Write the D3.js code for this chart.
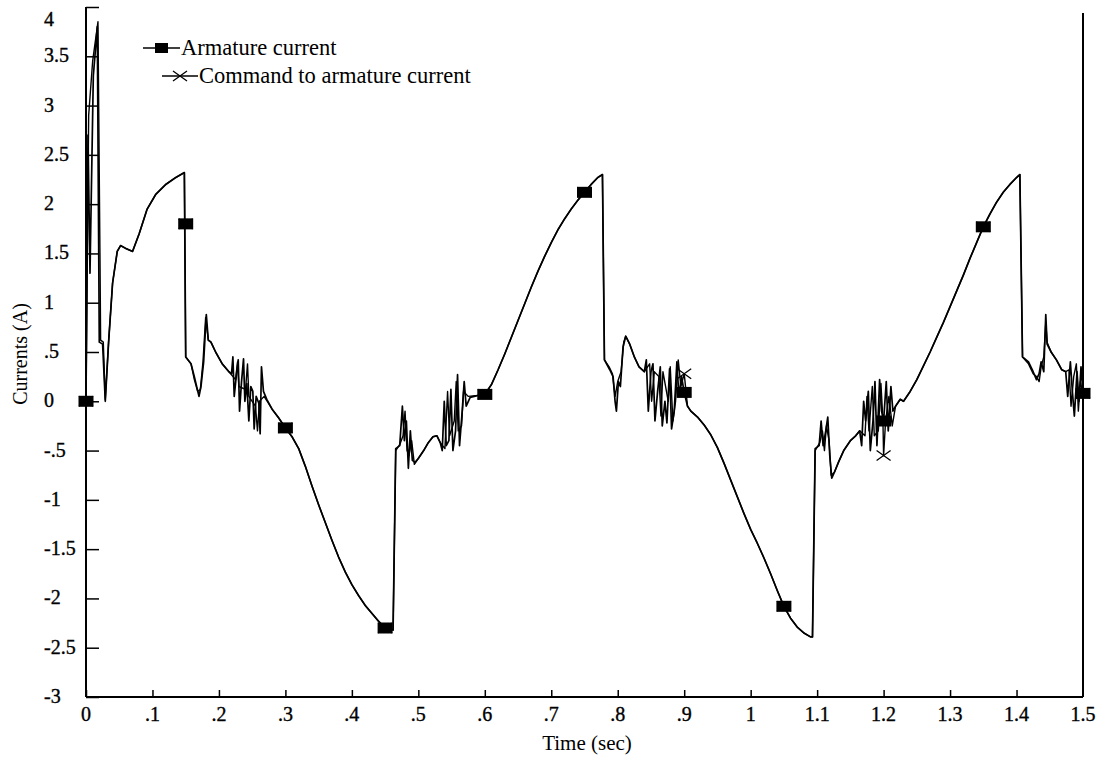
<!DOCTYPE html>
<html>
<head>
<meta charset="utf-8">
<script src="https://cdn.jsdelivr.net/npm/d3@7"></script>
<style>
  html, body { margin: 0; padding: 0; background: #fff; }
  svg { display: block; }
  text { font-family: "Liberation Serif", "Times New Roman", serif; fill: #000; }
</style>
</head>
<body>
<svg id="chart" width="1107" height="759"></svg>
<script>
// ---------------- DATA ----------------
const xTickValues = [0, 0.1, 0.2, 0.3, 0.4, 0.5, 0.6, 0.7, 0.8, 0.9, 1, 1.1, 1.2, 1.3, 1.4, 1.5];
const xTickLabels = ["0", ".1", ".2", ".3", ".4", ".5", ".6", ".7", ".8", ".9", "1", "1.1", "1.2", "1.3", "1.4", "1.5"];
const yTickValues = [4, 3.5, 3, 2.5, 2, 1.5, 1, 0.5, 0, -0.5, -1, -1.5, -2, -2.5, -3];
const yTickLabels = ["4", "3.5", "3", "2.5", "2", "1.5", "1", ".5", "0", "-.5", "-1", "-1.5", "-2", "-2.5", "-3"];

const seriesNames = ["Armature current", "Command to armature current"];

// Armature current [time (s), current (A)]
const armature = [
  [0,0],[0.003,2.7],[0.006,1.3],[0.011,3.3],[0.017,3.8],[0.020,0.6],[0.025,0.58],[0.029,0],
  [0.034,0.6],[0.040,1.2],[0.047,1.52],[0.052,1.58],[0.060,1.55],[0.070,1.52],[0.080,1.7],
  [0.092,1.95],[0.105,2.1],[0.120,2.2],[0.135,2.27],[0.148,2.32],[0.150,0.45],
  [0.158,0.38],[0.163,0.25],[0.170,0.05],[0.173,0.15],[0.177,0.4],[0.181,0.88],[0.184,0.62],
  [0.188,0.6],[0.195,0.5],[0.205,0.38],[0.215,0.3],
  [0.219,0.28],[0.221,0.45],[0.223,0.05],[0.226,0.25],[0.229,0.42],[0.231,-0.1],[0.234,0.2],
  [0.237,0.43],[0.239,0.0],[0.242,0.18],[0.245,-0.2],[0.248,0.15],[0.251,0.1],[0.253,-0.28],
  [0.256,0.05],[0.260,-0.02],[0.262,-0.33],[0.264,0.35],[0.267,0.1],[0.272,0.02],[0.280,-0.08],
  [0.290,-0.17],[0.300,-0.27],
  [0.31,-0.36],[0.32,-0.48],[0.33,-0.66],[0.34,-0.86],[0.35,-1.05],[0.36,-1.23],[0.37,-1.41],
  [0.38,-1.58],[0.39,-1.73],[0.40,-1.86],[0.41,-1.97],[0.42,-2.07],[0.43,-2.15],[0.44,-2.23],
  [0.45,-2.3],[0.462,-2.32],
  [0.466,-0.48],[0.472,-0.45],[0.476,-0.05],[0.479,-0.4],[0.482,-0.2],[0.485,-0.68],[0.488,-0.3],
  [0.491,-0.6],[0.495,-0.62],[0.500,-0.58],[0.508,-0.5],[0.515,-0.42],[0.522,-0.36],[0.528,-0.35],
  [0.533,-0.42],[0.536,-0.5],[0.539,0.0],[0.542,-0.45],[0.546,-0.4],[0.549,0.12],[0.552,-0.5],
  [0.556,-0.3],[0.559,0.27],[0.562,-0.45],[0.566,-0.1],[0.569,0.2],[0.572,-0.05],[0.578,0.04],
  [0.59,0.06],[0.60,0.07],
  [0.61,0.17],[0.62,0.32],[0.63,0.48],[0.64,0.65],[0.65,0.82],[0.66,0.99],[0.67,1.16],[0.68,1.32],
  [0.69,1.47],[0.70,1.61],[0.71,1.74],[0.72,1.85],[0.73,1.95],[0.74,2.04],[0.75,2.12],[0.76,2.2],
  [0.77,2.27],[0.777,2.3],[0.780,0.42],
  [0.788,0.32],[0.793,0.25],[0.796,0.0],[0.798,-0.1],[0.801,0.2],[0.804,0.15],[0.808,0.55],
  [0.812,0.66],[0.818,0.58],[0.825,0.45],[0.832,0.35],[0.840,0.3],[0.843,0.42],[0.846,-0.1],
  [0.850,0.3],[0.853,0.38],[0.856,-0.2],[0.860,0.1],[0.864,0.35],[0.867,-0.25],[0.871,0.0],
  [0.874,-0.22],[0.878,0.33],[0.881,-0.28],[0.885,-0.1],[0.889,0.4],[0.892,0.05],[0.896,0.25],
  [0.900,0.09],[0.905,-0.05],
  [0.91,-0.1],[0.92,-0.16],[0.93,-0.24],[0.94,-0.34],[0.95,-0.47],[0.96,-0.63],[0.97,-0.8],
  [0.98,-0.97],[0.99,-1.14],[1.00,-1.3],[1.01,-1.44],[1.02,-1.59],[1.03,-1.75],[1.04,-1.92],
  [1.05,-2.08],[1.06,-2.2],[1.07,-2.29],[1.08,-2.35],[1.09,-2.39],[1.093,-2.39],
  [1.097,-0.48],[1.103,-0.45],[1.106,-0.2],[1.109,-0.45],[1.113,-0.3],[1.116,-0.16],[1.119,-0.55],
  [1.122,-0.78],[1.126,-0.72],[1.132,-0.62],[1.14,-0.5],[1.15,-0.4],[1.158,-0.35],[1.164,-0.3],
  [1.167,-0.45],[1.170,0.0],[1.173,-0.2],[1.177,0.1],[1.180,-0.5],[1.184,-0.2],[1.187,0.2],
  [1.190,-0.45],[1.194,0.22],[1.197,-0.1],[1.200,-0.2],[1.204,0.2],[1.207,-0.3],[1.211,0.15],
  [1.214,-0.1],[1.218,-0.05],[1.225,0.02],
  [1.23,0.0],[1.24,0.1],[1.25,0.22],[1.26,0.36],[1.27,0.5],[1.28,0.65],[1.29,0.8],[1.30,0.96],
  [1.31,1.12],[1.32,1.28],[1.33,1.45],[1.34,1.61],[1.35,1.77],[1.36,1.9],[1.37,2.02],[1.38,2.12],
  [1.39,2.2],[1.40,2.27],[1.405,2.3],[1.409,0.45],
  [1.418,0.4],[1.425,0.3],[1.430,0.22],[1.434,0.28],[1.437,0.4],[1.441,0.3],[1.444,0.88],
  [1.446,0.58],[1.452,0.5],[1.460,0.42],[1.468,0.32],[1.474,0.3],[1.477,0.05],[1.481,0.4],
  [1.484,0.1],[1.487,-0.15],[1.491,0.3],[1.494,0.0],[1.497,0.35],[1.5,0.08]
];

// Command to armature current [time (s), current (A)]
const command = [
  [0,0],[0.004,2.9],[0.010,3.45],[0.018,3.85],[0.021,1.5],[0.022,0.62],[0.026,0.6],[0.029,0.02],
  [0.034,0.6],[0.040,1.2],[0.047,1.52],[0.052,1.58],[0.060,1.55],[0.070,1.52],[0.080,1.7],
  [0.092,1.95],[0.105,2.1],[0.120,2.2],[0.135,2.27],[0.148,2.32],[0.150,0.45],
  [0.158,0.38],[0.163,0.22],[0.168,0.1],[0.172,0.12],[0.176,0.4],[0.180,0.85],[0.184,0.62],
  [0.188,0.6],[0.195,0.5],[0.205,0.38],[0.215,0.3],
  [0.225,0.22],[0.228,0.4],[0.230,0.15],[0.240,0.12],[0.243,0.38],[0.245,0.05],[0.250,0.0],
  [0.255,-0.05],[0.258,-0.3],[0.261,0.0],[0.268,0.05],[0.280,-0.08],[0.290,-0.17],[0.300,-0.27],
  [0.31,-0.36],[0.32,-0.48],[0.33,-0.66],[0.34,-0.86],[0.35,-1.05],[0.36,-1.23],[0.37,-1.41],
  [0.38,-1.58],[0.39,-1.73],[0.40,-1.86],[0.41,-1.97],[0.42,-2.07],[0.43,-2.15],[0.44,-2.23],
  [0.45,-2.3],[0.462,-2.32],
  [0.466,-0.5],[0.472,-0.44],[0.477,-0.35],[0.480,-0.1],[0.483,-0.5],[0.486,-0.55],[0.490,-0.4],
  [0.494,-0.64],[0.500,-0.58],[0.508,-0.5],[0.515,-0.42],[0.522,-0.36],[0.528,-0.35],[0.533,-0.42],
  [0.540,-0.48],[0.544,0.1],[0.547,-0.35],[0.554,-0.2],[0.557,0.2],[0.560,-0.3],[0.565,-0.25],
  [0.568,0.1],[0.575,0.05],[0.59,0.06],[0.60,0.07],
  [0.61,0.17],[0.62,0.32],[0.63,0.48],[0.64,0.65],[0.65,0.82],[0.66,0.99],[0.67,1.16],[0.68,1.32],
  [0.69,1.47],[0.70,1.61],[0.71,1.74],[0.72,1.85],[0.73,1.95],[0.74,2.04],[0.75,2.12],[0.76,2.2],
  [0.77,2.27],[0.777,2.3],[0.780,0.42],
  [0.787,0.35],[0.792,0.28],[0.796,0.05],[0.800,0.2],[0.805,0.3],[0.809,0.6],[0.812,0.66],
  [0.818,0.58],[0.825,0.45],[0.832,0.35],[0.840,0.3],[0.848,0.38],[0.851,0.0],[0.855,0.3],
  [0.862,0.25],[0.865,-0.15],[0.868,0.3],[0.876,0.0],[0.879,0.35],[0.883,-0.2],[0.887,0.0],
  [0.891,0.42],[0.895,0.15],[0.900,0.28],[0.905,-0.05],
  [0.91,-0.1],[0.92,-0.16],[0.93,-0.24],[0.94,-0.34],[0.95,-0.47],[0.96,-0.63],[0.97,-0.8],
  [0.98,-0.97],[0.99,-1.14],[1.00,-1.3],[1.01,-1.44],[1.02,-1.59],[1.03,-1.75],[1.04,-1.92],
  [1.05,-2.08],[1.06,-2.2],[1.07,-2.29],[1.08,-2.35],[1.09,-2.39],[1.093,-2.39],
  [1.097,-0.5],[1.104,-0.42],[1.108,-0.3],[1.111,-0.5],[1.114,-0.25],[1.118,-0.4],[1.121,-0.75],
  [1.126,-0.72],[1.132,-0.62],[1.14,-0.5],[1.15,-0.4],[1.158,-0.35],[1.164,-0.3],[1.172,-0.35],
  [1.175,0.05],[1.178,-0.3],[1.183,0.15],[1.186,-0.35],[1.192,-0.3],[1.196,0.18],[1.199,-0.2],
  [1.200,-0.55],[1.203,-0.2],[1.208,0.05],[1.213,-0.25],[1.218,-0.05],[1.225,0.02],
  [1.23,0.0],[1.24,0.1],[1.25,0.22],[1.26,0.36],[1.27,0.5],[1.28,0.65],[1.29,0.8],[1.30,0.96],
  [1.31,1.12],[1.32,1.28],[1.33,1.45],[1.34,1.61],[1.35,1.77],[1.36,1.9],[1.37,2.02],[1.38,2.12],
  [1.39,2.2],[1.40,2.27],[1.405,2.3],[1.409,0.45],
  [1.418,0.38],[1.425,0.28],[1.430,0.25],[1.434,0.2],[1.437,0.35],[1.441,0.45],[1.444,0.8],
  [1.446,0.6],[1.452,0.5],[1.460,0.42],[1.468,0.32],[1.474,0.3],[1.479,0.32],[1.482,-0.05],
  [1.486,0.25],[1.490,0.38],[1.493,-0.1],[1.496,0.2],[1.5,0.08]
];

// Marker positions (every 0.15 s)
const markerTimes = [0, 0.15, 0.3, 0.45, 0.6, 0.75, 0.9, 1.05, 1.2, 1.35, 1.5];
const armatureMarkers = [0, 1.8, -0.27, -2.3, 0.07, 2.12, 0.09, -2.08, -0.2, 1.77, 0.08];
const commandMarkers = [0, 1.8, -0.27, -2.3, 0.07, 2.12, 0.28, -2.08, -0.55, 1.77, 0.08];

// ---------------- DRAW ----------------
const svg = d3.select("#chart");
svg.append("rect").attr("width", 1107).attr("height", 759).attr("fill", "#fff");

const x = d3.scaleLinear().domain([0, 1.5]).range([86, 1083]);
const y = d3.scaleLinear().domain([-3, 4]).range([697, 7]);

const line = d3.line().x(d => x(d[0])).y(d => y(d[1]));

const axisColor = "#000";
// left axis with inward ticks
const yAxis = d3.axisRight(y).tickValues(yTickValues).tickSize(13).tickFormat("");
const gy = svg.append("g").attr("transform", `translate(${x(0)},0)`).call(yAxis);
gy.select(".domain").remove();
gy.selectAll(".tick line").attr("stroke", axisColor).attr("stroke-width", 1.5);
svg.append("line").attr("x1", x(0)).attr("x2", x(0)).attr("y1", y(4)).attr("y2", y(-3))
  .attr("stroke", axisColor).attr("stroke-width", 2);

// y labels (left aligned)
svg.append("g").selectAll("text").data(yTickValues).join("text")
  .attr("x", 44)
  .attr("y", (d) => Math.max(y(d), 20) + 6)
  .attr("font-size", 20)
  .attr("stroke", "#000").attr("stroke-width", 0.35)
  .attr("text-anchor", "start")
  .text((d, i) => yTickLabels[i]);

// bottom axis with upward ticks
const xAxis = d3.axisTop(x).tickValues(xTickValues.slice(0, -1)).tickSize(7).tickFormat("");
const gx = svg.append("g").attr("transform", `translate(0,${y(-3)})`).call(xAxis);
gx.select(".domain").remove();
gx.selectAll(".tick line").attr("stroke", axisColor).attr("stroke-width", 1.5);
svg.append("line").attr("x1", x(0)).attr("x2", x(1.5)).attr("y1", y(-3)).attr("y2", y(-3))
  .attr("stroke", axisColor).attr("stroke-width", 2);
// right border
svg.append("line").attr("x1", x(1.5)).attr("x2", x(1.5)).attr("y1", 13).attr("y2", y(-3))
  .attr("stroke", axisColor).attr("stroke-width", 2);

svg.append("g").selectAll("text").data(xTickValues).join("text")
  .attr("x", d => x(d))
  .attr("y", y(-3) + 24)
  .attr("font-size", 20)
  .attr("stroke", "#000").attr("stroke-width", 0.35)
  .attr("text-anchor", "middle")
  .text((d, i) => xTickLabels[i]);

// axis titles
svg.append("text").attr("x", 587).attr("y", 750).attr("font-size", 21)
  .attr("text-anchor", "middle").text("Time (sec)");
svg.append("text").attr("transform", "translate(27,354) rotate(-90)").attr("font-size", 20)
  .attr("text-anchor", "middle").text("Currents (A)");

// series lines
svg.append("path").datum(command).attr("d", line)
  .attr("fill", "none").attr("stroke", "#000").attr("stroke-width", 1.4).attr("stroke-linejoin", "round");
svg.append("path").datum(armature).attr("d", line)
  .attr("fill", "none").attr("stroke", "#000").attr("stroke-width", 1.7).attr("stroke-linejoin", "round");

// command markers (x)
const xMark = (g, cx, cy) => {
  g.append("path")
    .attr("d", `M${cx - 7},${cy - 5}L${cx + 7},${cy + 5}M${cx - 7},${cy + 5}L${cx + 7},${cy - 5}`)
    .attr("stroke", "#000").attr("stroke-width", 1.3).attr("fill", "none");
};
const cm = svg.append("g");
markerTimes.forEach((t, i) => xMark(cm, x(t), y(commandMarkers[i])));

// armature markers (squares)
svg.append("g").selectAll("rect").data(markerTimes).join("rect")
  .attr("x", d => x(d) - 7.5)
  .attr("y", (d, i) => y(armatureMarkers[i]) - 5.5)
  .attr("width", 15).attr("height", 11).attr("fill", "#000");

// legend
const lg = svg.append("g");
lg.append("line").attr("x1", 143).attr("x2", 180).attr("y1", 48).attr("y2", 48)
  .attr("stroke", "#000").attr("stroke-width", 1.6);
lg.append("rect").attr("x", 155).attr("y", 43).attr("width", 13).attr("height", 10).attr("fill", "#000");
lg.append("text").attr("x", 181).attr("y", 55).attr("font-size", 22.5).text(seriesNames[0]);

lg.append("line").attr("x1", 162).attr("x2", 198).attr("y1", 76).attr("y2", 76)
  .attr("stroke", "#000").attr("stroke-width", 1.3);
xMark(lg, 180, 76);
lg.append("text").attr("x", 199).attr("y", 83).attr("font-size", 22.5).text(seriesNames[1]);
</script>
</body>
</html>
